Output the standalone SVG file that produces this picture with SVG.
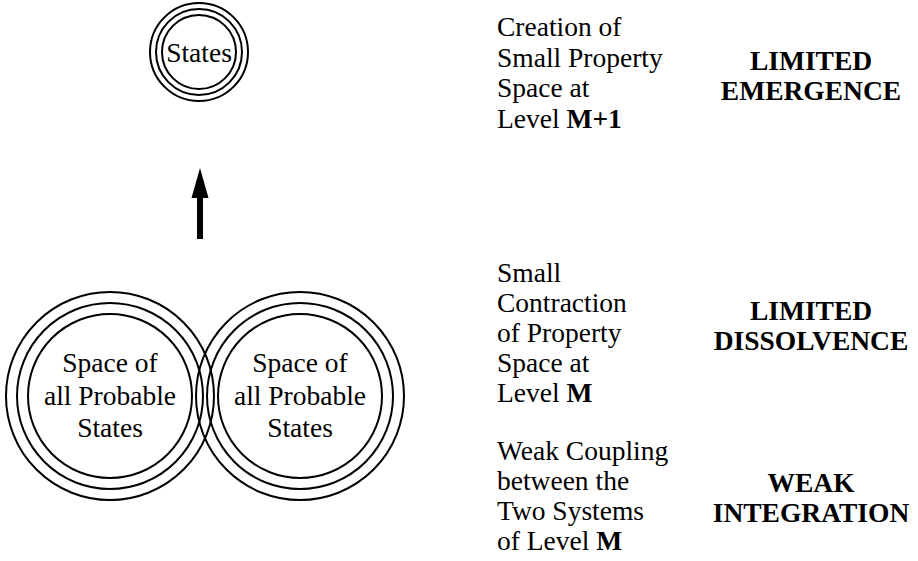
<svg xmlns="http://www.w3.org/2000/svg" width="918" height="561" viewBox="0 0 918 561">
<style>
  .ring { fill: none; stroke: #000; stroke-width: 2; }
  text { font-family: 'Liberation Serif', 'DejaVu Serif', serif; font-size: 27.5px; fill: #000; }
  .c { text-anchor: middle; }
  .b { font-weight: bold; }
</style>
<rect width="918" height="561" fill="#fff"/>
<g id="top-states">
  <circle class="ring" cx="199" cy="52" r="49"/>
  <circle class="ring" cx="199" cy="52" r="43"/>
  <circle class="ring" cx="199" cy="52" r="37"/>
  <text class="c" x="199" y="62" font-family="Liberation Serif, serif">States</text>
</g>
<g id="left-space">
  <circle class="ring" cx="110" cy="396" r="104"/>
  <circle class="ring" cx="110" cy="396" r="93"/>
  <circle class="ring" cx="110" cy="396" r="82"/>
  <text class="c" x="110" y="372">Space of</text>
  <text class="c" x="110" y="405">all Probable</text>
  <text class="c" x="110" y="437">States</text>
</g>
<g id="right-space">
  <circle class="ring" cx="300" cy="396" r="104"/>
  <circle class="ring" cx="300" cy="396" r="93"/>
  <circle class="ring" cx="300" cy="396" r="82"/>
  <text class="c" x="300" y="372">Space of</text>
  <text class="c" x="300" y="405">all Probable</text>
  <text class="c" x="300" y="437">States</text>
</g>
<g id="connectors">
  <polygon points="200,168 208.5,198 203,198 203,239 197,239 197,198 191.5,198" fill="#000"/>
</g>
<g id="label-emergence">
  <text x="497" y="36">Creation of</text>
  <text x="497" y="66.5">Small Property</text>
  <text x="497" y="97">Space at</text>
  <text x="497" y="127.5">Level <tspan class="b">M+1</tspan></text>
  <text class="c b" x="811" y="70">LIMITED</text>
  <text class="c b" x="811" y="100">EMERGENCE</text>
</g>
<g id="label-dissolvence">
  <text x="497" y="282">Small</text>
  <text x="497" y="312">Contraction</text>
  <text x="497" y="342">of Property</text>
  <text x="497" y="372">Space at</text>
  <text x="497" y="402">Level <tspan class="b">M</tspan></text>
  <text class="c b" x="811" y="320">LIMITED</text>
  <text class="c b" x="811" y="350">DISSOLVENCE</text>
</g>
<g id="label-integration">
  <text x="497" y="460">Weak Coupling</text>
  <text x="497" y="490">between the</text>
  <text x="497" y="520">Two Systems</text>
  <text x="497" y="550">of Level <tspan class="b">M</tspan></text>
  <text class="c b" x="811" y="492">WEAK</text>
  <text class="c b" x="811" y="522">INTEGRATION</text>
</g>
</svg>
